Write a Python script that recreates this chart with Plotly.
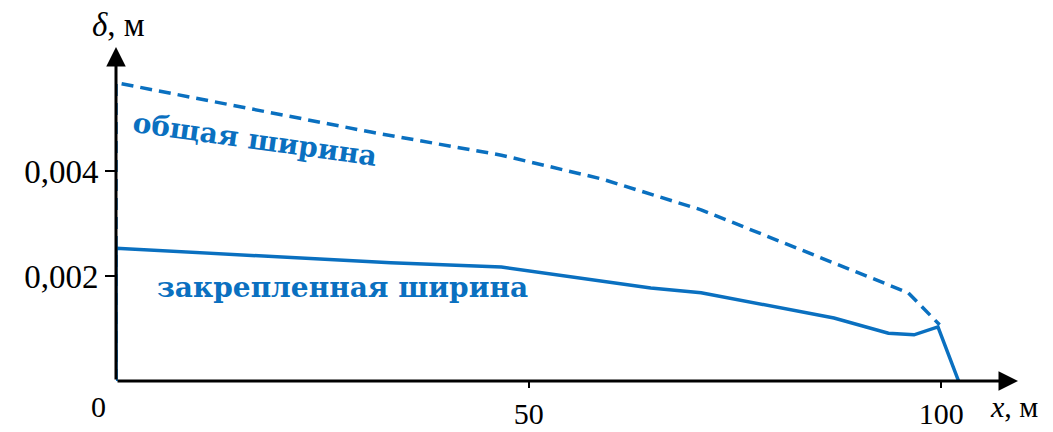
import plotly.graph_objects as go

# Crack opening profile along the fracture
x_total = [0, 0, 30.9, 46.7, 58.8, 70.9, 96.0, 99.8]
w_total = [0, 0.00568, 0.00474, 0.00430, 0.00385, 0.00326, 0.00168, 0.00107]

x_fixed = [0, 0, 33.3, 46.7, 64.8, 70.9, 87.0, 93.6, 96.7, 99.6, 102.1]
w_fixed = [0, 0.00253, 0.00225, 0.00217, 0.00177, 0.00168, 0.00120, 0.00091, 0.00088, 0.00103, 0.0]

x_ticks = [50, 100]
x_ticktext = ["50", "100"]
y_ticks = [0.002, 0.004]
y_ticktext = ["0,002", "0,004"]

BLUE = "#0a70c0"
SERIF = "Liberation Serif"
BOLD_SERIF = "DejaVu Serif"
X_MAX = 109.3
Y_MAX = 0.00636

fig = go.Figure()
fig.add_trace(go.Scatter(x=x_total, y=w_total, mode="lines",
                         line=dict(color=BLUE, width=3.5, dash="12px,7px"),
                         showlegend=False, hoverinfo="skip"))
fig.add_trace(go.Scatter(x=x_fixed, y=w_fixed, mode="lines",
                         line=dict(color=BLUE, width=3.5),
                         showlegend=False, hoverinfo="skip"))

axis_font = dict(family=SERIF, size=33, color="black")
x_font = dict(family=SERIF, size=30, color="black")

fig.update_xaxes(range=[0, X_MAX], showgrid=False, zeroline=False, showline=False,
                 tickvals=x_ticks, ticktext=x_ticktext, ticks="outside", automargin=False,
                 ticklen=6, tickwidth=2, tickcolor="black", tickfont=x_font)
fig.update_yaxes(range=[0, Y_MAX], showgrid=False, zeroline=False, showline=False,
                 tickvals=y_ticks, ticktext=y_ticktext, ticks="outside", automargin=False,
                 ticklen=10, tickwidth=2, tickcolor="black", tickfont=axis_font)

# Axis arrows
fig.add_annotation(x=X_MAX, y=0, ax=0, ay=0, xref="x", yref="y", axref="x", ayref="y",
                   showarrow=True, arrowhead=2, arrowsize=1.3, arrowwidth=3,
                   arrowcolor="black", standoff=0, text="")
fig.add_annotation(x=0, y=Y_MAX, ax=0, ay=0, xref="x", yref="y", axref="x", ayref="y",
                   showarrow=True, arrowhead=2, arrowsize=1.3, arrowwidth=3,
                   arrowcolor="black", standoff=0, text="")

# Axis titles and origin label
fig.add_annotation(x=0, y=0, xref="x", yref="y", text="0", showarrow=False,
                   xanchor="center", yanchor="top", xshift=-18, yshift=-7, font=x_font)
fig.add_annotation(x=1.0, y=0, xref="paper", yref="y",
                   text="<i>x</i>, м", showarrow=False, xanchor="left", yanchor="top",
                   xshift=-30, yshift=-7, font=x_font)
fig.add_annotation(x=0, y=1.0, xref="x", yref="paper",
                   text="<i>δ</i>, м", showarrow=False, xanchor="center", yanchor="bottom",
                   xshift=2, yshift=2, font=dict(family=SERIF, size=33, color="black"))

# Curve labels
label_font = dict(family=BOLD_SERIF, size=28, color=BLUE)
fig.add_annotation(x=16.9, y=0.00460, xref="x", yref="y", text="<b>общая ширина</b>",
                   showarrow=False, textangle=8, font=label_font)
fig.add_annotation(x=27.4, y=0.00179, xref="x", yref="y", text="<b>закрепленная ширина</b>",
                   showarrow=False, font=label_font)

fig.update_layout(width=1053, height=432, margin=dict(l=116, r=35, t=47, b=51, autoexpand=False),
                  plot_bgcolor="white", paper_bgcolor="white")

fig.write_html("out.html")
